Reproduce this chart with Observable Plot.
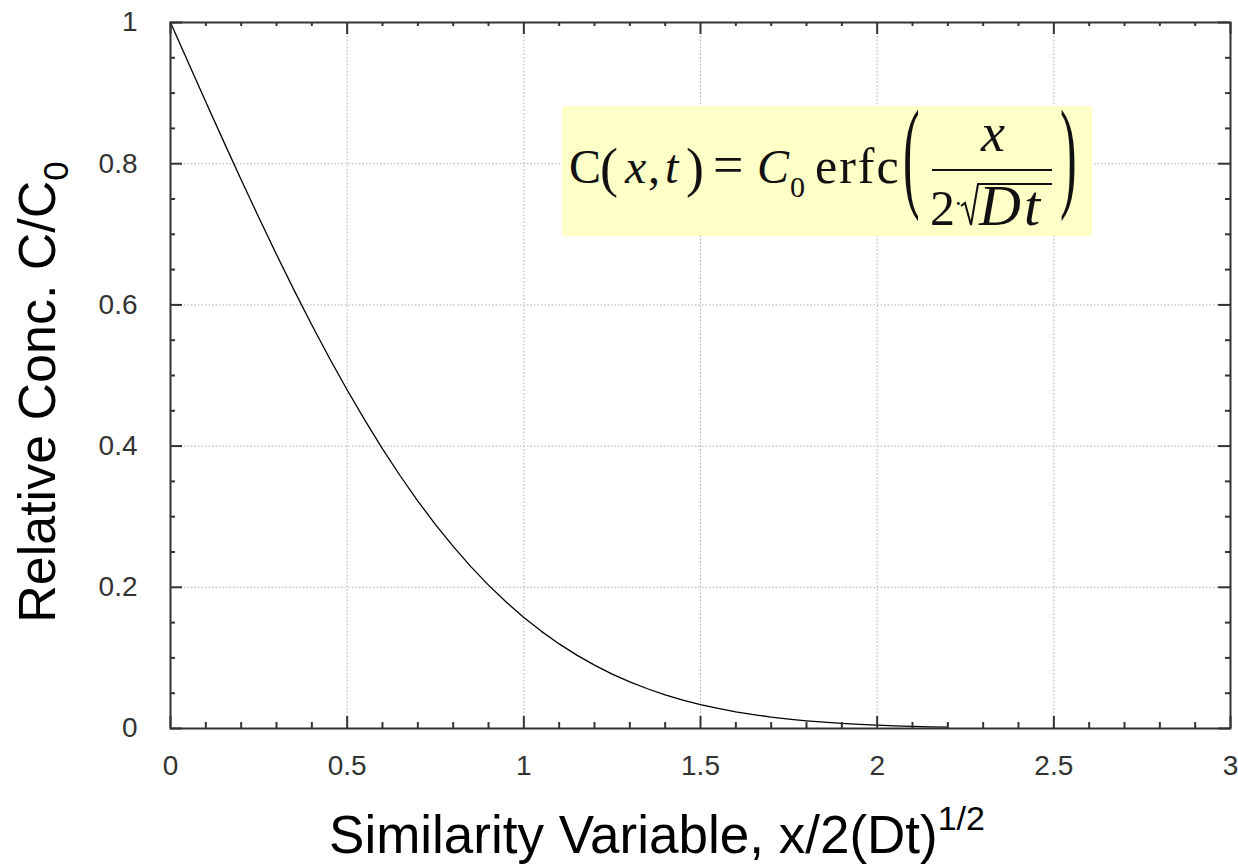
<!DOCTYPE html>
<html><head><meta charset="utf-8">
<script src="https://cdn.jsdelivr.net/npm/d3@7"></script>
<script src="https://cdn.jsdelivr.net/npm/@observablehq/plot@0.6"></script>
<style>
body{margin:0;background:#fff;}
#wrap{position:relative;width:1238px;height:865px;overflow:hidden;}
</style></head><body><div id="wrap"></div>
<script>
// x values (similarity variable) and relative concentration
const xs = [0,0.05,0.1,0.15,0.2,0.25,0.3,0.35,0.4,0.45,0.5,0.55,0.6,0.65,0.7,0.75,0.8,0.85,0.9,0.95,1.0,1.05,1.1,1.15,1.2,1.25,1.3,1.35,1.4,1.45,1.5,1.55,1.6,1.65,1.7,1.75,1.8,1.85,1.9,1.95,2.0,2.05,2.1,2.15,2.2];
const conc = [1,0.9436,0.8875,0.832,0.7773,0.7237,0.6714,0.6206,0.5716,0.5245,0.4795,0.4367,0.3961,0.358,0.3222,0.2888,0.2579,0.2293,0.2031,0.1791,0.1573,0.1376,0.1198,0.1039,0.0897,0.0771,0.066,0.0563,0.0477,0.0403,0.0339,0.0284,0.0237,0.0197,0.0162,0.0133,0.0109,0.0089,0.0072,0.0058,0.0047,0.0037,0.003,0.0024,0.0019];
const xMajor = [0,0.5,1,1.5,2,2.5,3];
const xLabels = ["0","0.5","1","1.5","2","2.5","3"];
const yMajor = [0,0.2,0.4,0.6,0.8,1];
const yLabels = ["0","0.2","0.4","0.6","0.8","1"];
const xMinor = [0.1,0.2,0.3,0.4,0.6,0.7,0.8,0.9,1.1,1.2,1.3,1.4,1.6,1.7,1.8,1.9,2.1,2.2,2.3,2.4,2.6,2.7,2.8,2.9];
const yMinor = [0.05,0.1,0.15,0.25,0.3,0.35,0.45,0.5,0.55,0.65,0.7,0.75,0.85,0.9,0.95];
const xTitle = "Similarity Variable, x/2(Dt)";
const xTitleSup = "1/2";
const yTitle = "Relative Conc. C/C";
const yTitleSub = "0";

const W=1238,H=865,mL=170,mR=8,mT=22,mB=137;
const iw=W-mL-mR, ih=H-mT-mB;
const data = xs.map((x,i)=>({x, c:conc[i]}));
const tk = {stroke:"#333", strokeWidth:2};
const grid = {stroke:"#b0b0b0", strokeDasharray:"1.5,2"};
const lab = {fontSize:28, fill:"#333", fontFamily:"Liberation Sans, Arial, sans-serif"};

const plot = Plot.plot({
  width:W, height:H, marginLeft:mL, marginRight:mR, marginTop:mT, marginBottom:mB,
  x:{domain:[0,3], axis:null},
  y:{domain:[0,1], axis:null},
  style:{background:"transparent", fontFamily:"Liberation Sans, Arial, sans-serif"},
  marks:[
    Plot.ruleX(xMajor.slice(1,-1), {x:d=>d, ...grid}),
    Plot.ruleY(yMajor.slice(1,-1), {y:d=>d, ...grid}),
    Plot.line(data, {x:"x", y:"c", stroke:"#000", strokeWidth:1.3}),
    Plot.tickX(xMajor, {x:d=>d, insetTop:ih-12, ...tk}),
    Plot.tickX(xMajor, {x:d=>d, insetBottom:ih-12, ...tk}),
    Plot.tickX(xMinor, {x:d=>d, insetTop:ih-6, ...tk}),
    Plot.tickX(xMinor, {x:d=>d, insetBottom:ih-4, ...tk}),
    Plot.tickY(yMajor, {y:d=>d, insetRight:iw-12, ...tk}),
    Plot.tickY(yMajor, {y:d=>d, insetLeft:iw-12, ...tk}),
    Plot.tickY(yMinor, {y:d=>d, insetRight:iw-5, ...tk}),
    Plot.tickY(yMinor, {y:d=>d, insetLeft:iw-5, ...tk}),
    Plot.frame({stroke:"#333", strokeWidth:2}),
    Plot.text(xMajor, {x:d=>d, text:(d,i)=>xLabels[i], frameAnchor:"bottom", dy:46, ...lab}),
    Plot.text(yMajor, {y:d=>d, text:(d,i)=>yLabels[i], frameAnchor:"left", dx:-33, textAnchor:"end", ...lab})
  ]
});

const svg = d3.select(plot);
const sans = "Liberation Sans, Arial, sans-serif";
const serif = "Liberation Serif, Times New Roman, serif";
// x axis title
const xt = svg.append("text").attr("x",657).attr("y",853).attr("text-anchor","middle")
  .attr("font-family",sans).attr("font-size",53).attr("fill","#000");
xt.append("tspan").text(xTitle);
xt.append("tspan").attr("font-size",34).attr("dy",-23).text(xTitleSup);
// y axis title
const yt = svg.append("text").attr("transform","translate(55,392) rotate(-90)").attr("text-anchor","middle")
  .attr("font-family",sans).attr("font-size",52).attr("fill","#000");
yt.append("tspan").text(yTitle);
yt.append("tspan").attr("font-size",35).attr("dy",13).text(yTitleSub);

// formula annotation box
const g = svg.append("g").attr("font-family",serif).attr("fill","#111").attr("text-anchor","start");
g.append("rect").attr("x",562).attr("y",106).attr("width",530).attr("height",130).attr("fill","#ffffc8");
const T = (x,y,s,opt={}) => {
  const t = g.append("text").attr("x",x).attr("y",y).attr("font-size",opt.size||48).text(s);
  if (opt.italic) t.attr("font-style","italic");
  if (opt.ls) t.attr("letter-spacing",opt.ls);
  t.attr("text-anchor", opt.anchor || "start");
  return t;
};
const by = 183;
T(569,by,"C");
T(600,by+3,"(",{size:54});
T(625,by,"x",{italic:true});
T(648,by,",");
T(665,by,"t",{italic:true});
T(686,by+3,")",{size:54});
T(713,by,"=",{size:54});
T(757,by,"C",{italic:true});
T(790,by+14,"0",{size:30});
T(815,by,"erfc",{size:50, ls:2});
// big parentheses
g.append("text").attr("font-size",50).attr("text-anchor","start").attr("transform","translate(903,195) scale(1,2.45)").text("(");
g.append("text").attr("font-size",50).attr("text-anchor","start").attr("transform","translate(1060,195) scale(1,2.45)").text(")");
// fraction
T(993,151,"x",{italic:true,size:54,anchor:"middle"});
g.append("line").attr("x1",932).attr("x2",1052).attr("y1",170).attr("y2",170).attr("stroke","#111").attr("stroke-width",2);
T(930,225,"2",{size:50});
T(954,212,"·",{size:26});
g.append("path").attr("d","M961,206 L965,203 L971,225 L978,184 L1052,184").attr("fill","none").attr("stroke","#111").attr("stroke-width",2);
T(979,225,"Dt",{italic:true,size:58, ls:3});

document.getElementById("wrap").appendChild(plot);
</script></body></html>
